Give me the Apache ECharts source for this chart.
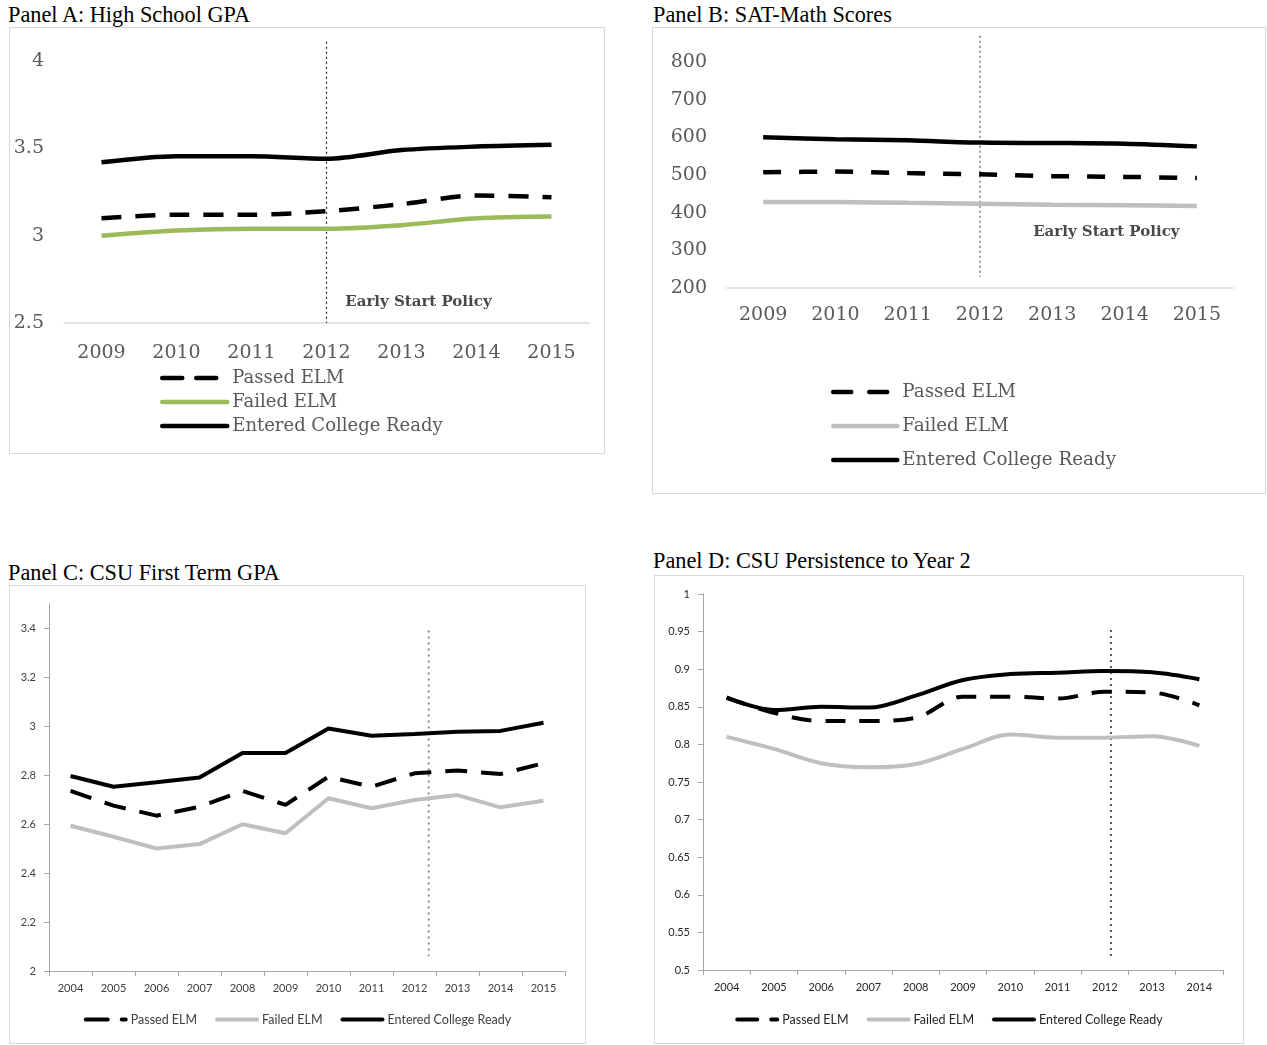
<!DOCTYPE html>
<html>
<head>
<meta charset="utf-8">
<script src="https://cdn.jsdelivr.net/npm/echarts@6/dist/echarts.min.js"></script>
<style>
  body { margin: 0; background: #fff; width: 1267px; height: 1045px; position: relative; overflow: hidden; }
  .title { position: absolute; font-family: 'Liberation Serif', serif; font-size: 22.3px; color: #000; white-space: nowrap; }
  .box { position: absolute; border: 1px solid #d9d9d9; box-sizing: border-box; }
  .chart { width: 100%; height: 100%; }
</style>
</head>
<body>
<div class="title" style="left:8px;top:2px">Panel A: High School GPA</div>
<div class="box" style="left:9px;top:27px;width:596px;height:427px"><div id="chartA" class="chart"></div></div>

<div class="title" style="left:653px;top:2px">Panel B: SAT-Math Scores</div>
<div class="box" style="left:652px;top:27px;width:614px;height:467px"><div id="chartB" class="chart"></div></div>

<div class="title" style="left:8px;top:560px">Panel C: CSU First Term GPA</div>
<div class="box" style="left:9px;top:585px;width:577px;height:459px"><div id="chartC" class="chart"></div></div>

<div class="title" style="left:653px;top:548px">Panel D: CSU Persistence to Year 2</div>
<div class="box" style="left:654px;top:575px;width:590px;height:469px"><div id="chartD" class="chart"></div></div>

<script>
// ---- data ----
const seriesNames = ['Passed ELM', 'Failed ELM', 'Entered College Ready'];

// Panel A: High School GPA
const yearsA = ['2009', '2010', '2011', '2012', '2013', '2014', '2015'];
const passedA = [3.10, 3.12, 3.12, 3.14, 3.18, 3.23, 3.22];
const failedA = [3.00, 3.03, 3.04, 3.04, 3.06, 3.10, 3.11];
const readyA = [3.42, 3.455, 3.455, 3.44, 3.49, 3.51, 3.52];
const policyLineA = [[3, 4.11], [3, 2.5]];
const policyLabelA = [3.25, 2.62];

// Panel B: SAT-Math Scores
const yearsB = ['2009', '2010', '2011', '2012', '2013', '2014', '2015'];
const passedB = [507, 509, 505, 502, 497, 495, 492];
const failedB = [428, 428, 426, 424, 421, 420, 418];
const readyB = [600, 595, 592, 586, 585, 583, 576];
const policyLineB = [[3, 870], [3, 230]];
const policyLabelB = [3.735, 349];

// Panel C: CSU First Term GPA
const yearsC = ['2004', '2005', '2006', '2007', '2008', '2009', '2010', '2011', '2012', '2013', '2014', '2015'];
const passedC = [2.735, 2.675, 2.634, 2.67, 2.735, 2.678, 2.793, 2.752, 2.807, 2.818, 2.804, 2.848];
const failedC = [2.593, 2.548, 2.50, 2.518, 2.599, 2.562, 2.705, 2.664, 2.698, 2.718, 2.668, 2.695];
const readyC = [2.796, 2.752, 2.77, 2.79, 2.89, 2.89, 2.99, 2.96, 2.967, 2.977, 2.98, 3.013];
const ticksC = [2, 2.2, 2.4, 2.6, 2.8, 3, 3.2, 3.4];
const policyLineC = [[8.33, 3.39], [8.33, 2.06]];

// Panel D: CSU Persistence to Year 2
const yearsD = ['2004', '2005', '2006', '2007', '2008', '2009', '2010', '2011', '2012', '2013', '2014'];
const passedD = [0.862, 0.842, 0.831, 0.831, 0.8355, 0.8635, 0.8635, 0.861, 0.870, 0.869, 0.852];
const failedD = [0.810, 0.794, 0.775, 0.7696, 0.774, 0.794, 0.813, 0.809, 0.809, 0.811, 0.798];
const readyD = [0.8626, 0.8457, 0.850, 0.849, 0.8648, 0.8856, 0.8936, 0.8954, 0.8976, 0.8959, 0.8866];
const policyLineD = [[8.13, 0.952], [8.13, 0.517]];

// ---- shared helpers ----
const serif = 'DejaVu Serif';
const sans = 'Lato';

function lineSeries(name, data, color, dash, width, smooth) {
    return {
        name: name,
        type: 'line',
        data: data,
        symbol: 'none',
        smooth: smooth,
        lineStyle: { color: color, width: width, type: dash || 'solid' },
        itemStyle: { color: color },
        z: 3
    };
}

function policySeries(points, color, width, dash) {
    return {
        type: 'line',
        xAxisIndex: 1,
        data: points,
        symbol: 'none',
        clip: false,
        silent: true,
        lineStyle: { color: color, width: width, type: dash },
        z: 2
    };
}

function policyText(point, fontSize) {
    return {
        type: 'scatter',
        xAxisIndex: 1,
        data: [point],
        symbolSize: 0,
        silent: true,
        label: {
            show: true,
            position: 'right',
            distance: 0,
            formatter: 'Early Start Policy',
            color: '#1a1a1a',
            fontFamily: serif,
            fontSize: fontSize,
            fontWeight: 'bold'
        }
    };
}

function hiddenValueAxis(n) {
    return { type: 'value', min: -0.5, max: n - 0.5, show: false };
}

// legend icon: line only, no symbol dot
const legendLine = { width: 'inherit', cap: 'round' };
const legendNoDot = { opacity: 0 };

// ---- Panel A ----
const optionA = {
    animation: false,
    grid: { left: 54, top: 33, width: 525, height: 262 },
    legend: {
        data: seriesNames,
        orient: 'vertical',
        left: 150,
        top: 341,
        padding: 0,
        itemWidth: 65,
        itemHeight: 14,
        itemGap: 6,
        itemStyle: legendNoDot,
        lineStyle: legendLine,
        textStyle: { fontFamily: serif, fontSize: 18, color: '#595959' }
    },
    xAxis: [
        {
            type: 'category',
            data: yearsA,
            axisLine: { lineStyle: { color: '#d9d9d9', width: 1.5 } },
            axisTick: { show: false },
            axisLabel: { fontFamily: serif, fontSize: 19, color: '#595959', margin: 21 }
        },
        hiddenValueAxis(yearsA.length)
    ],
    yAxis: {
        type: 'value',
        min: 2.5,
        max: 4,
        interval: 0.5,
        splitLine: { show: false },
        axisLine: { show: false, onZero: false },
        axisTick: { show: false },
        axisLabel: { fontFamily: serif, fontSize: 19, color: '#595959', margin: 20 }
    },
    series: [
        policySeries(policyLineA, '#222', 1.2, [2, 3]),
        policyText(policyLabelA, 15),
        lineSeries('Passed ELM', passedA, '#000', [20, 14], 4.5, 0.3),
        lineSeries('Failed ELM', failedA, '#9bbb59', null, 4.5, 0.3),
        lineSeries('Entered College Ready', readyA, '#000', null, 4.5, 0.3)
    ]
};

// ---- Panel B ----
const optionB = {
    animation: false,
    grid: { left: 74, top: 34, width: 506, height: 226 },
    legend: {
        data: seriesNames,
        orient: 'vertical',
        left: 178,
        top: 355,
        padding: 0,
        itemWidth: 64,
        itemHeight: 14,
        itemGap: 16,
        itemStyle: legendNoDot,
        lineStyle: legendLine,
        textStyle: { fontFamily: serif, fontSize: 18.3, color: '#595959' }
    },
    xAxis: [
        {
            type: 'category',
            data: yearsB,
            axisLine: { lineStyle: { color: '#d9d9d9', width: 1.5 } },
            axisTick: { show: false },
            axisLabel: { fontFamily: serif, fontSize: 19, color: '#595959', margin: 18 }
        },
        hiddenValueAxis(yearsB.length)
    ],
    yAxis: {
        type: 'value',
        min: 200,
        max: 800,
        interval: 100,
        splitLine: { show: false },
        axisLine: { show: false, onZero: false },
        axisTick: { show: false },
        axisLabel: { fontFamily: serif, fontSize: 19, color: '#595959', margin: 20 }
    },
    series: [
        policySeries(policyLineB, '#9a9a9a', 2, [2, 3]),
        policyText(policyLabelB, 15),
        lineSeries('Passed ELM', passedB, '#000', [18, 18], 4.5, 0.3),
        lineSeries('Failed ELM', failedB, '#bfbfbf', null, 4.5, 0.3),
        lineSeries('Entered College Ready', readyB, '#000', null, 4.5, 0.3)
    ]
};

// ---- small Excel-style panels (C, D) ----
function smallAxisX(years, color) {
    return [
        {
            type: 'category',
            data: years,
            axisLine: { lineStyle: { color: '#a6a6a6', width: 1 } },
            axisTick: { show: true, length: 5, lineStyle: { color: '#a6a6a6' } },
            axisLabel: { fontFamily: sans, fontSize: 11, color: color, margin: 12 }
        },
        hiddenValueAxis(years.length)
    ];
}

function smallLegend(color) {
    return {
        data: seriesNames,
        left: 'center',
        bottom: 12,
        itemWidth: 40,
        itemHeight: 10,
        itemGap: 18,
        itemStyle: legendNoDot,
        lineStyle: legendLine,
        textStyle: { fontFamily: sans, fontSize: 12.5, color: color }
    };
}

const optionC = {
    animation: false,
    grid: { left: 39, top: 17.5, width: 516, height: 367.5 },
    legend: smallLegend('#404040'),
    xAxis: smallAxisX(yearsC, '#404040'),
    yAxis: {
        type: 'value',
        min: 2,
        max: 3.5,
        splitLine: { show: false },
        axisLine: { show: true, onZero: false, lineStyle: { color: '#a6a6a6' } },
        axisTick: { show: true, length: 5, lineStyle: { color: '#a6a6a6' }, customValues: ticksC },
        axisLabel: {
            fontFamily: sans, fontSize: 11, color: '#404040', margin: 13,
            customValues: ticksC,
            formatter: v => String(Math.round(v * 10) / 10)
        }
    },
    series: [
        policySeries(policyLineC, '#8c8c8c', 2, [2, 4]),
        lineSeries('Passed ELM', passedC, '#000', [22, 14], 4, false),
        lineSeries('Failed ELM', failedC, '#bfbfbf', null, 4, false),
        lineSeries('Entered College Ready', readyC, '#000', null, 4, false)
    ]
};

const optionD = {
    animation: false,
    grid: { left: 48, top: 18, width: 520, height: 376 },
    legend: smallLegend('#262626'),
    xAxis: smallAxisX(yearsD, '#262626'),
    yAxis: {
        type: 'value',
        min: 0.5,
        max: 1,
        interval: 0.05,
        splitLine: { show: false },
        axisLine: { show: true, onZero: false, lineStyle: { color: '#a6a6a6' } },
        axisTick: { show: true, length: 5, lineStyle: { color: '#a6a6a6' } },
        axisLabel: {
            fontFamily: sans, fontSize: 11, color: '#262626', margin: 13,
            formatter: v => String(Math.round(v * 100) / 100)
        }
    },
    series: [
        policySeries(policyLineD, '#222', 1.5, [2, 4]),
        lineSeries('Passed ELM', passedD, '#000', [20, 14], 4, 0.35),
        lineSeries('Failed ELM', failedD, '#bfbfbf', null, 4, 0.35),
        lineSeries('Entered College Ready', readyD, '#000', null, 4, 0.35)
    ]
};

const charts = [
    ['chartA', optionA],
    ['chartB', optionB],
    ['chartC', optionC],
    ['chartD', optionD]
].map(([id, opt]) => {
    const chart = echarts.init(document.getElementById(id), null, { renderer: 'canvas' });
    chart.setOption(opt);
    return chart;
});

window.addEventListener('resize', () => charts.forEach(c => c.resize()));
</script>
</body>
</html>
